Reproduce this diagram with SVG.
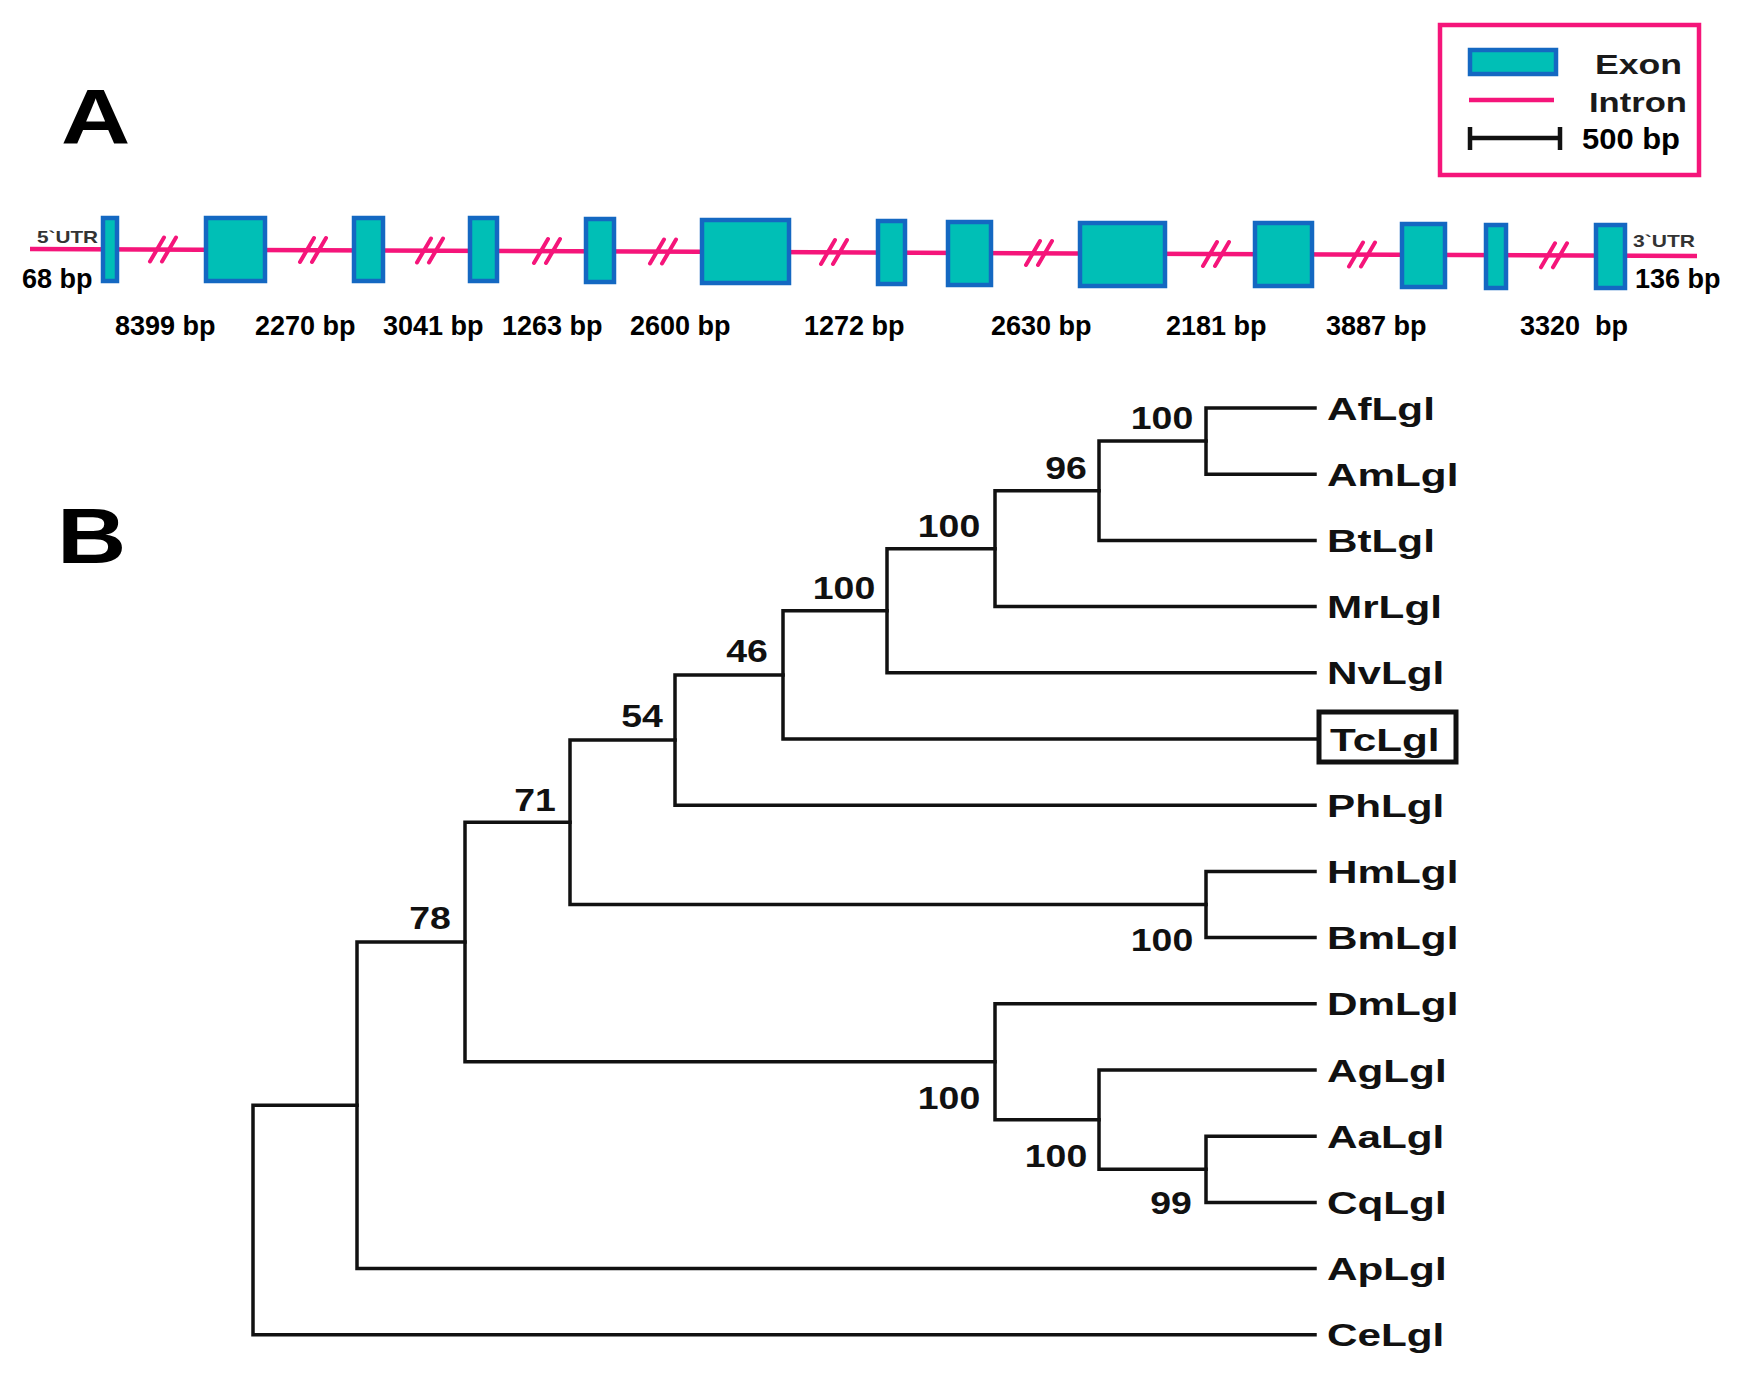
<svg xmlns="http://www.w3.org/2000/svg" width="1739" height="1374" viewBox="0 0 1739 1374">
<style>
text{font-family:"Liberation Sans",Arial,sans-serif;font-weight:bold;fill:#000}
.exon{fill:#00BFB6;stroke:#1468C2;stroke-width:4.5}
.intron{fill:none;stroke:#F5157A;stroke-width:4.5}
.brk{fill:none;stroke:#F5157A;stroke-width:4;stroke-linecap:round}
.br{fill:none;stroke:#111;stroke-width:3.5;stroke-linecap:square;stroke-linejoin:miter}
.leaf{font-size:32px;fill:#111}
.bs{font-size:32px;text-anchor:middle;fill:#111}
.bp{font-size:27px;white-space:pre}
.utr{font-size:17px;fill:#333}
.panel{font-size:78px}
.leg{font-size:28px;fill:#1a1a1a}
</style>
<rect width="1739" height="1374" fill="#fff"/>

<!-- Panel letters -->
<text class="panel" transform="translate(61,144) scale(1.23,1)">A</text>
<text class="panel" transform="translate(57,563) scale(1.23,1)">B</text>

<!-- Legend -->
<g id="legend">
<rect x="1440" y="25" width="259" height="150" fill="#fff" stroke="#F5157A" stroke-width="4.5"/>
<rect class="exon" x="1470" y="50" width="86" height="24"/>
<line class="intron" x1="1469" y1="100" x2="1554" y2="100"/>
<path d="M1469,138 H1561 M1470,127 V150 M1560,127 V150" fill="none" stroke="#111" stroke-width="4.5"/>
<text class="leg" x="1595" y="74" textLength="87" lengthAdjust="spacingAndGlyphs">Exon</text>
<text class="leg" x="1589" y="112" textLength="98" lengthAdjust="spacingAndGlyphs">Intron</text>
<text class="bp" x="1582" y="149" style="font-size:29px" textLength="98" lengthAdjust="spacingAndGlyphs">500 bp</text>
</g>

<!-- Gene structure: introns / UTRs -->
<g id="gene-lines">
<path class="intron" d="M30,249 L1697,256"/>
<path class="brk" d="M150,261.5 L164,237.5 M162,261.5 L176,237.5
M300,262 L314,238 M312,262 L326,238
M417,262.5 L431,238.5 M429,262.5 L443,238.5
M534,263 L548,239 M546,263 L560,239
M650,263.5 L664,239.5 M662,263.5 L676,239.5
M821,264 L835,240 M833,264 L847,240
M1026,265 L1040,241 M1038,265 L1052,241
M1203,266 L1217,242 M1215,266 L1229,242
M1349,266.5 L1363,242.5 M1361,266.5 L1375,242.5
M1541,267.3 L1555,243.3 M1553,267.3 L1567,243.3"/>
</g>

<!-- Exons -->
<g id="exon1"><rect class="exon" x="103" y="218" width="14" height="63"/></g>
<g id="exon2"><rect class="exon" x="206" y="218" width="59" height="63"/></g>
<g id="exon3"><rect class="exon" x="354" y="218" width="29" height="63"/></g>
<g id="exon4"><rect class="exon" x="470" y="218" width="27" height="63"/></g>
<g id="exon5"><rect class="exon" x="586" y="219" width="28" height="63"/></g>
<g id="exon6"><rect class="exon" x="702" y="220" width="87" height="63"/></g>
<g id="exon7"><rect class="exon" x="878" y="221" width="27" height="63"/></g>
<g id="exon8"><rect class="exon" x="948" y="222" width="43" height="63"/></g>
<g id="exon9"><rect class="exon" x="1080" y="223" width="85" height="63"/></g>
<g id="exon10"><rect class="exon" x="1255" y="223" width="57" height="63"/></g>
<g id="exon11"><rect class="exon" x="1402" y="224" width="43" height="63"/></g>
<g id="exon12"><rect class="exon" x="1486" y="225" width="20" height="63"/></g>
<g id="exon13"><rect class="exon" x="1596" y="225" width="29" height="63"/></g>

<!-- Gene labels -->
<g id="gene-labels">
<text class="utr" x="37" y="243" textLength="61" lengthAdjust="spacingAndGlyphs">5`UTR</text>
<text class="utr" x="1633" y="247" textLength="62" lengthAdjust="spacingAndGlyphs">3`UTR</text>
<text class="bp" x="22" y="288">68 bp</text>
<text class="bp" x="1635" y="288">136 bp</text>
<text class="bp" x="115" y="335">8399 bp</text>
<text class="bp" x="255" y="335">2270 bp</text>
<text class="bp" x="383" y="335">3041 bp</text>
<text class="bp" x="502" y="335">1263 bp</text>
<text class="bp" x="630" y="335">2600 bp</text>
<text class="bp" x="804" y="335">1272 bp</text>
<text class="bp" x="991" y="335">2630 bp</text>
<text class="bp" x="1166" y="335">2181 bp</text>
<text class="bp" x="1326" y="335">3887 bp</text>
<text class="bp" x="1520" y="335">3320  bp</text>
</g>

<!-- Tree connectors -->
<g id="connectors">
<path class="br" d="M1315,408 H1206 V474.2 H1315"/>
<path class="br" d="M1206,441.1 H1099 V540.4 H1315"/>
<path class="br" d="M1099,490.8 H995 V606.6 H1315"/>
<path class="br" d="M995,548.7 H887 V672.8 H1315"/>
<path class="br" d="M887,610.8 H783 V739 H1317"/>
<path class="br" d="M783,674.9 H675 V805.2 H1315"/>
<path class="br" d="M1315,871.4 H1206 V937.6 H1315"/>
<path class="br" d="M675,740 H570 V904.5 H1206"/>
<path class="br" d="M1315,1136.2 H1206 V1202.4 H1315"/>
<path class="br" d="M1315,1070 H1099 V1169.3 H1206"/>
<path class="br" d="M1315,1003.8 H995 V1119.7 H1099"/>
<path class="br" d="M570,822.3 H465 V1061.7 H995"/>
<path class="br" d="M465,942 H357 V1268.6 H1315"/>
<path class="br" d="M357,1105.3 H253 V1334.8 H1315"/>
</g>

<!-- Bootstrap values -->
<g id="n1"><text class="bs" transform="translate(1162,429) scale(1.17,1)">100</text></g>
<g id="n2"><text class="bs" transform="translate(1066,479) scale(1.17,1)">96</text></g>
<g id="n3"><text class="bs" transform="translate(949,537) scale(1.17,1)">100</text></g>
<g id="n4"><text class="bs" transform="translate(844,599) scale(1.17,1)">100</text></g>
<g id="n5"><text class="bs" transform="translate(747,662) scale(1.17,1)">46</text></g>
<g id="n6"><text class="bs" transform="translate(642,727) scale(1.17,1)">54</text></g>
<g id="n8"><text class="bs" transform="translate(535,811) scale(1.17,1)">71</text></g>
<g id="n12"><text class="bs" transform="translate(430,929) scale(1.17,1)">78</text></g>
<g id="n7"><text class="bs" transform="translate(1162,951) scale(1.17,1)">100</text></g>
<g id="n11"><text class="bs" transform="translate(949,1109) scale(1.17,1)">100</text></g>
<g id="n10"><text class="bs" transform="translate(1056,1167) scale(1.17,1)">100</text></g>
<g id="n9"><text class="bs" transform="translate(1171,1214) scale(1.17,1)">99</text></g>

<!-- Leaves -->
<g id="AfLgl"><text class="leaf" transform="translate(1327,419.5) scale(1.32,1)">AfLgl</text></g>
<g id="AmLgl"><text class="leaf" transform="translate(1327,485.7) scale(1.32,1)">AmLgl</text></g>
<g id="BtLgl"><text class="leaf" transform="translate(1327,551.9) scale(1.32,1)">BtLgl</text></g>
<g id="MrLgl"><text class="leaf" transform="translate(1327,618.1) scale(1.32,1)">MrLgl</text></g>
<g id="NvLgl"><text class="leaf" transform="translate(1327,684.3) scale(1.32,1)">NvLgl</text></g>
<g id="TcLgl"><rect x="1319" y="712" width="137" height="50" fill="none" stroke="#111" stroke-width="5"/><text class="leaf" transform="translate(1330,750.5) scale(1.32,1)">TcLgl</text></g>
<g id="PhLgl"><text class="leaf" transform="translate(1327,816.7) scale(1.32,1)">PhLgl</text></g>
<g id="HmLgl"><text class="leaf" transform="translate(1327,882.9) scale(1.32,1)">HmLgl</text></g>
<g id="BmLgl"><text class="leaf" transform="translate(1327,949.1) scale(1.32,1)">BmLgl</text></g>
<g id="DmLgl"><text class="leaf" transform="translate(1327,1015.3) scale(1.32,1)">DmLgl</text></g>
<g id="AgLgl"><text class="leaf" transform="translate(1327,1081.5) scale(1.32,1)">AgLgl</text></g>
<g id="AaLgl"><text class="leaf" transform="translate(1327,1147.7) scale(1.32,1)">AaLgl</text></g>
<g id="CqLgl"><text class="leaf" transform="translate(1327,1213.9) scale(1.32,1)">CqLgl</text></g>
<g id="ApLgl"><text class="leaf" transform="translate(1327,1280.1) scale(1.32,1)">ApLgl</text></g>
<g id="CeLgl"><text class="leaf" transform="translate(1327,1346.3) scale(1.32,1)">CeLgl</text></g>
</svg>
